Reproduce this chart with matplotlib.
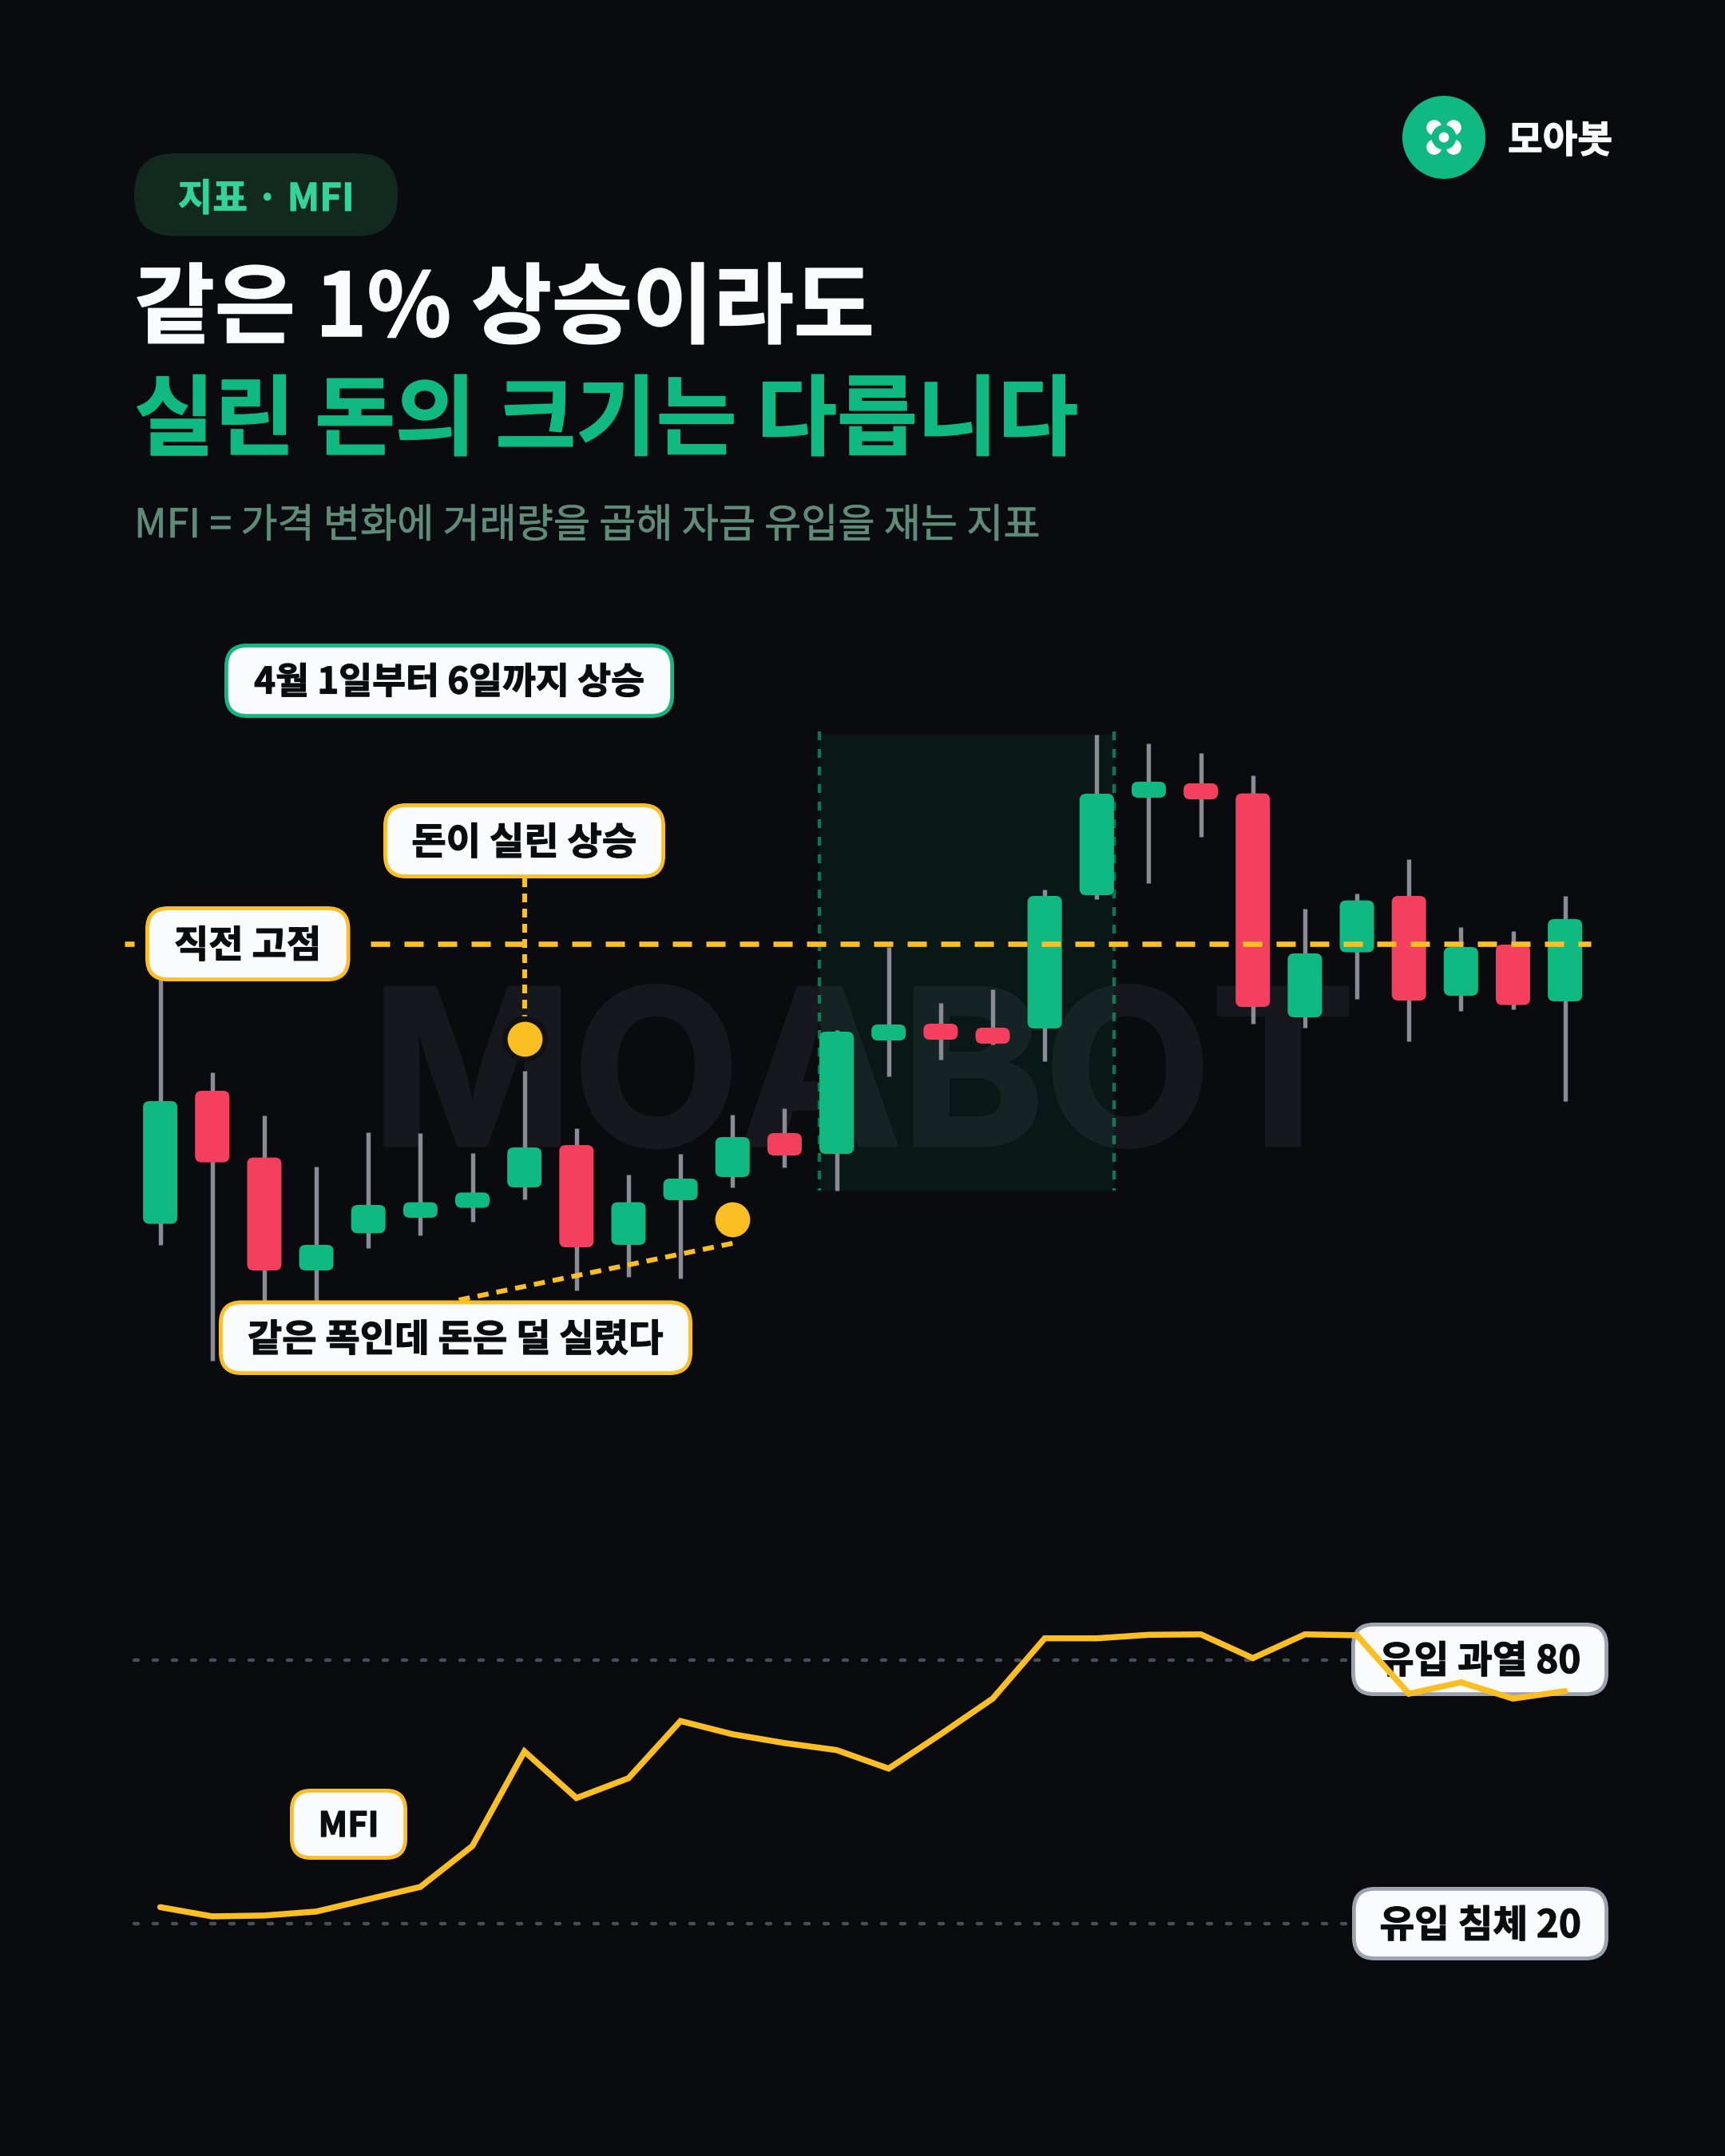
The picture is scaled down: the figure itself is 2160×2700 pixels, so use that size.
import matplotlib
matplotlib.use("Agg")
import matplotlib.pyplot as plt
import matplotlib.patheffects as pe
from matplotlib.patches import FancyBboxPatch, Circle, Rectangle

plt.rcParams['font.family'] = ['Noto Sans CJK KR', 'DejaVu Sans']

W, H = 2160, 2700
BG = "#0A0B0F"
GREEN = "#10B981"
RED = "#F43F5E"
GOLD = "#FBBF24"
WICK = "#8B8B95"

# candles, price index with the prior high at 100
opens = [82.47, 90.80, 86.62, 79.55, 81.88, 82.85, 83.47, 84.75, 87.40, 81.15, 83.95, 85.40, 88.15, 86.85,
         93.95, 95.00, 94.75, 94.70, 103.05, 109.15, 110.05, 109.42, 95.40, 99.47, 103.00, 96.75, 99.95, 96.40]
closes = [90.15, 86.32, 79.55, 81.15, 83.65, 83.82, 84.43, 87.25, 81.00, 83.82, 85.30, 87.90, 86.75, 94.50,
          94.95, 94.00, 93.75, 103.00, 109.40, 110.15, 109.05, 96.05, 99.40, 102.72, 96.45, 99.80, 96.17, 101.55]
highs = [100.00, 91.97, 89.23, 86.07, 88.20, 88.13, 86.90, 92.05, 88.45, 85.55, 86.87, 89.30, 89.70, 94.62,
         99.80, 96.30, 97.15, 103.40, 113.10, 112.55, 111.95, 110.55, 102.22, 103.15, 105.30, 101.05, 100.80, 103.00]
lows = [81.15, 73.92, 77.10, 77.10, 80.95, 81.75, 82.62, 84.00, 78.30, 79.15, 79.05, 84.75, 86.00, 84.55,
        91.72, 92.75, 93.72, 92.67, 102.80, 103.80, 106.70, 95.00, 94.75, 96.55, 93.92, 95.80, 95.90, 90.17]
prior_high = 100.0
rally_span = [13, 18]
strong_point = (7, 94.05)
weak_point = (11, 82.75)

mfi = [23.8, 21.7, 21.9, 22.8, 25.6, 28.4, 37.7, 59.2, 48.6, 53.1, 66.1, 63.1, 61.1, 59.5,
       55.3, 63.1, 71.2, 84.9, 84.9, 85.7, 85.8, 80.4, 85.8, 85.6, 72.3, 74.9, 71.2, 72.9]
mfi_levels = [80, 20]

# pixel scale of the two charts
X0, STEP = 200.6, 65.15
PRICE_PX = 20.0
MFI_PX = 5.51


def add_axes(fig, left, top, right, bottom, z):
    ax = fig.add_axes([left / W, 1 - bottom / H, (right - left) / W, (bottom - top) / H], zorder=z)
    ax.set_axis_off()
    ax.patch.set_alpha(0)
    return ax


def dash(on_px, off_px, lw):
    # matplotlib scales dashes by the line width
    return (on_px * 0.72 / lw, off_px * 0.72 / lw)


def heavy(color, px):
    return [pe.withStroke(linewidth=px * 0.72, foreground=color)]


def box_label(ax, left, top, right, bottom, text, edge, size=34, radius=26, stroke=4.8):
    s = stroke / 2
    ax.add_patch(FancyBboxPatch((left + s, top + s), right - left - stroke, bottom - top - stroke,
                                boxstyle=f"round,pad=0,rounding_size={radius}",
                                fc="#F9FBFD", ec=edge, lw=stroke * 0.72))
    ax.text((left + right) / 2, (top + bottom) / 2 - 2, text, ha="center", va="center_baseline",
            color="#0B0C10", fontsize=size, fontweight="bold", path_effects=heavy("#0B0C10", 1.2))


fig = plt.figure(figsize=(W / 100, H / 100), dpi=100, facecolor=BG)

# background layer in pixel coordinates: header, logo, watermark
bg = add_axes(fig, 0, 0, W, H, 0)
bg.set_xlim(0, W)
bg.set_ylim(H, 0)

bg.add_patch(FancyBboxPatch((168, 192), 330, 103.7, boxstyle="round,pad=0,rounding_size=51",
                            fc="#11291F", ec="none"))
bg.text(333, 245, "지표 · MFI", ha="center", va="center_baseline", color="#34D399", fontsize=34.2,
        fontweight="bold", path_effects=heavy("#34D399", 1.0))
bg.text(168, 421, "같은 1% 상승이라도", ha="left", va="baseline", color="#F9FBFD", fontsize=79.0,
        fontweight=900, path_effects=heavy("#F9FBFD", 1.5))
bg.text(168, 561, "실린 돈의 크기는 다릅니다", ha="left", va="baseline", color=GREEN, fontsize=78.8,
        fontweight=900, path_effects=heavy(GREEN, 1.5))
bg.text(168, 673, "MFI = 가격 변화에 거래량을 곱해 자금 유입을 재는 지표", ha="left", va="baseline",
        color="#5E8C78", fontsize=36.1, fontweight="medium", path_effects=heavy("#5E8C78", 0.7))

bg.add_patch(Circle((1808, 172), 52, fc=GREEN, ec="none"))
for dx in (-12.2, 12.2):
    for dy in (-12.2, 12.2):
        bg.add_patch(Circle((1808 + dx, 172 + dy), 9.6, fc="white", ec="none"))
bg.add_patch(Circle((1808, 172), 15.5, fc=GREEN, ec="none"))
bg.add_patch(Circle((1808, 172), 6.4, fc="white", ec="none"))
bg.text(1888, 172, "모아봇", ha="left", va="center_baseline", color="#F9FBFD", fontsize=34.2, fontweight="bold",
        path_effects=heavy("#F9FBFD", 1.2))

bg.text(1081, 1434, "MOABOT", ha="center", va="baseline", color="#17181D", fontsize=195,
        fontweight="bold", family="Inter", path_effects=heavy("#17181D", 5))

# candle chart
PL, PR, PT, PB = 140, 2040, 880, 1760
ax = add_axes(fig, PL, PT, PR, PB, 1)
ax.set_xlim((PL - X0) / STEP, (PR - X0) / STEP)
ax.set_ylim(prior_high + (1182 - PB) / PRICE_PX, prior_high + (1182 - PT) / PRICE_PX)

half = 21.5 / STEP
ax.add_patch(Rectangle((rally_span[0] - half, prior_high + (1182 - 1491) / PRICE_PX),
                       rally_span[1] - rally_span[0] + 2 * half, (1491 - 920) / PRICE_PX,
                       fc=GREEN, alpha=0.075, ec="none", zorder=1))

rx = 8 / STEP
aspect = STEP / PRICE_PX
for i, (o, c, hi, lo) in enumerate(zip(opens, closes, highs, lows)):
    col = GREEN if c >= o else RED
    ax.plot([i, i], [lo, hi], color=WICK, lw=3.9, solid_capstyle="butt", zorder=3)
    ax.add_patch(FancyBboxPatch((i - half, min(o, c)), 2 * half, abs(c - o),
                                boxstyle=f"round,pad=0,rounding_size={rx}", mutation_aspect=aspect,
                                fc=col, ec="none", zorder=4))

# rally window edges, over the bars
span_top = prior_high + (1182 - 916) / PRICE_PX
span_bot = prior_high + (1182 - 1491) / PRICE_PX
for e in (rally_span[0] - half, rally_span[1] + half):
    ax.plot([e, e], [span_top, span_bot], color=GREEN, alpha=0.6, lw=3.2, dashes=dash(11, 11, 3.2), zorder=5)

# prior high line is broken around its label
ax.plot([(156 - X0) / STEP, (168 - X0) / STEP], [prior_high, prior_high], color=GOLD, lw=4.8,
        solid_capstyle="butt", zorder=6)
ax.plot([(464 - X0) / STEP, (1992 - X0) / STEP], [prior_high, prior_high], color=GOLD, lw=4.8,
        dashes=dash(24, 18, 4.8), zorder=6)

# callouts
ax.plot([strong_point[0], strong_point[0]], [prior_high + (1182 - 1100) / PRICE_PX, strong_point[1]],
        color=GOLD, lw=4.4, dashes=dash(11, 8, 4.4), zorder=6)
ax.plot([weak_point[0], (570 - X0) / STEP], [prior_high + (1182 - 1557) / PRICE_PX, prior_high + (1182 - 1629) / PRICE_PX],
        color=GOLD, lw=4.4, dashes=dash(14, 10, 4.4), zorder=6)
ax.plot(*strong_point, "o", ms=41.5, mfc="#101115", mec="none", zorder=7)
ax.plot(*strong_point, "o", ms=31.5, mfc=GOLD, mec="none", zorder=8)
ax.plot(*weak_point, "o", ms=31.5, mfc=GOLD, mec="none", zorder=8)

# labels above the candles
ov = add_axes(fig, 0, 0, W, H, 2)
ov.set_xlim(0, W)
ov.set_ylim(H, 0)
box_label(ov, 281, 806, 844, 899, "4월 1일부터 6일까지 상승", GREEN, size=32.8)
box_label(ov, 480, 1006, 833, 1100, "돈이 실린 상승", GOLD)
box_label(ov, 182, 1135, 438.5, 1229, "직전 고점", GOLD)
box_label(ov, 274, 1628.5, 867, 1722, "같은 폭인데 돈은 덜 실렸다", GOLD)
box_label(ov, 363, 2240, 510, 2329, "MFI", GOLD, size=31, radius=24)
box_label(ov, 1692, 2032, 2014, 2124, "유입 과열 80", "#9CA3AF", size=34.2)
box_label(ov, 1693, 2363, 2014, 2455, "유입 침체 20", "#9CA3AF", size=34.2)

# MFI panel, the line runs over the labels
ML, MR, MT, MB = 140, 2040, 2000, 2480
mx = add_axes(fig, ML, MT, MR, MB, 3)
mx.set_xlim((ML - X0) / STEP, (MR - X0) / STEP)
mx.set_ylim(20 + (2409.3 - MB) / MFI_PX, 20 + (2409.3 - MT) / MFI_PX)
for lv in mfi_levels:
    mx.plot([(168 - X0) / STEP, (1686 - X0) / STEP], [lv, lv], color="#4B4D57", lw=3.2,
            dashes=dash(5, 19, 3.2), dash_capstyle="round", zorder=1)
mx.plot(range(len(mfi)), mfi, color=GOLD, lw=5.4, solid_joinstyle="miter", solid_capstyle="round", zorder=2)

fig.savefig("out.png", dpi=100, facecolor=BG)
